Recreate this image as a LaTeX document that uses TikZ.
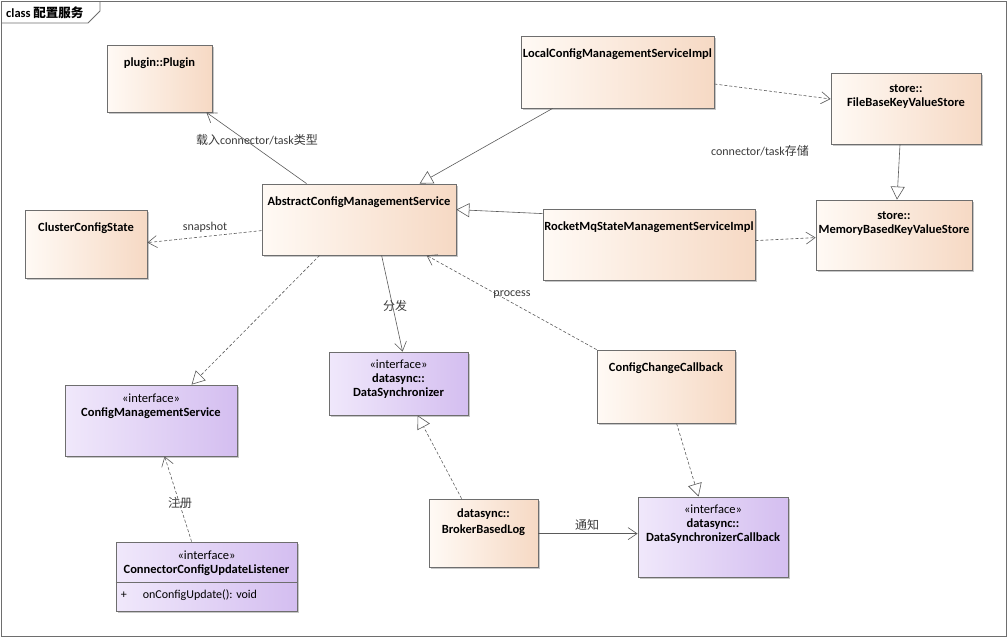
\documentclass[tikz,border=0pt]{standalone}
\usepackage{fontspec}
\setmainfont{Carlito}
\newfontfamily\cjk{Noto Sans CJK SC}
\usetikzlibrary{arrows.meta,shadows,calc}
\definecolor{clsA}{HTML}{FFFAF5}
\definecolor{clsB}{HTML}{F6D9C4}
\definecolor{ifA}{HTML}{F0E8FB}
\definecolor{ifB}{HTML}{D4BEF0}
\definecolor{edge}{HTML}{6E6E6E}
\definecolor{wire}{HTML}{5A5A5A}
\definecolor{lbl}{HTML}{3A3A3A}
\tikzset{
  boxbase/.style={draw=edge, line width=0.8pt, inner sep=0pt,
    drop shadow={shadow xshift=2pt, shadow yshift=-2pt, fill=black, opacity=0.22}},
  clsbox/.style={boxbase, left color=clsA, right color=clsB},
  ifbox/.style={boxbase, left color=ifA, right color=ifB},
  boxtext/.style={anchor=north, inner sep=0pt, align=center,
    font=\fontsize{12.5}{14}\selectfont\bfseries, text=black},
  lbltext/.style={inner sep=1pt, font=\fontsize{12}{14}\selectfont, text=lbl},
  wirebase/.style={draw=wire, line width=0.6pt},
  assoc/.style={wirebase, -{Straight Barb[length=9pt,width=12pt,line width=0.6pt]}},
  dep/.style={assoc, dash pattern=on 3pt off 2pt},
  gen/.style={wirebase, -{Triangle[length=13pt,width=14pt,fill=white,line width=0.6pt]}},
  real/.style={gen, dash pattern=on 3pt off 2pt}
}
\begin{document}
\begin{tikzpicture}[x=1pt,y=-1pt]
\useasboundingbox (0,0) rectangle (1007,637);
% frame
\draw[edge, line width=0.8pt] (1,1) rectangle (1006,636);
\draw[edge, line width=0.8pt] (1,23) -- (88,23) -- (100,11) -- (100,1);
\node[inner sep=0pt, anchor=west, font=\fontsize{12.5}{14}\selectfont\bfseries] (title) at (6,12.5) {class {\cjk 配置服务}};

% boxes
\node[clsbox, minimum width=105pt, minimum height=67pt] (plugin) at (159.5,78.5) {};
\node[clsbox, minimum width=193pt, minimum height=72pt] (local) at (617.5,72) {};
\node[clsbox, minimum width=150pt, minimum height=71pt] (file) at (906,108.5) {};
\node[clsbox, minimum width=194pt, minimum height=71pt] (abs) at (359,219.5) {};
\node[clsbox, minimum width=122pt, minimum height=68pt] (cluster) at (86,244) {};
\node[clsbox, minimum width=212pt, minimum height=71pt] (rocket) at (649,244.5) {};
\node[clsbox, minimum width=156pt, minimum height=70pt] (memory) at (894,235) {};
\node[ifbox, minimum width=172pt, minimum height=71pt] (cms) at (151,420.5) {};
\node[ifbox, minimum width=139pt, minimum height=63pt] (ds) at (398.5,383.5) {};
\node[clsbox, minimum width=138pt, minimum height=73pt] (ccc) at (666,386.5) {};
\node[clsbox, minimum width=109pt, minimum height=68pt] (bbl) at (483.5,533) {};
\node[ifbox, minimum width=150pt, minimum height=80pt] (dsc) at (713,537) {};
\node[ifbox, minimum width=181pt, minimum height=69pt] (ccul) at (206.5,576.5) {};
\draw[edge, line width=0.8pt] ($(ccul.north west)+(0,41)$) -- ($(ccul.north east)+(0,41)$);

% box texts
\node[boxtext] (tplugin) at ($(plugin.north)+(0,13)$) {plugin::Plugin};
\node[boxtext] (tlocal) at ($(local.north)+(0,13)$) {LocalConfigManagementServiceImpl};
\node[boxtext] (tfile) at ($(file.north)+(0,12)$) {store::\\FileBaseKeyValueStore};
\node[boxtext] (tabs) at ($(abs.north)+(0,13)$) {AbstractConfigManagementService};
\node[boxtext] (tcluster) at ($(cluster.north)+(0,13)$) {ClusterConfigState};
\node[boxtext] (trocket) at ($(rocket.north)+(0,13)$) {RocketMqStateManagementServiceImpl};
\node[boxtext] (tmemory) at ($(memory.north)+(0,12)$) {store::\\MemoryBasedKeyValueStore};
\node[boxtext] (tcms) at ($(cms.north)+(0,9)$) {\mdseries «interface»\\ConfigManagementService};
\node[boxtext] (tds) at ($(ds.north)+(0,8)$) {\mdseries «interface»\\datasync::\\DataSynchronizer};
\node[boxtext] (tccc) at ($(ccc.north)+(0,13)$) {ConfigChangeCallback};
\node[boxtext] (tbbl) at ($(bbl.north)+(0,10)$) {datasync::\\[1.5pt]BrokerBasedLog};
\node[boxtext] (tdsc) at ($(dsc.north)+(0,8)$) {\mdseries «interface»\\datasync::\\DataSynchronizerCallback};
\node[boxtext] (tccul) at ($(ccul.north)+(0,9)$) {\mdseries «interface»\\ConnectorConfigUpdateListener};
\node[inner sep=0pt, anchor=west, font=\fontsize{12}{14}\selectfont] (mplus) at ($(ccul.north west)+(5,54)$) {+};
\node[inner sep=0pt, anchor=west, font=\fontsize{12}{14}\selectfont] (mop) at ($(ccul.north west)+(27,54)$) {onConfigUpdate(): void};

% connectors
\draw[assoc] ($(abs.north west)+(45,0)$) -- ($(plugin.south east)+(-6,0)$);
\draw[gen] ($(local.south west)+(32,0)$) -- ($(abs.north west)+(158,0)$);
\draw[dep] ($(local.east)+(0,12)$) -- ($(file.west)+(0,-9.5)$);
\draw[gen] ($(file.south)+(-6,0)$) -- ($(memory.north)+(3,0)$);
\draw[gen] ($(rocket.north west)+(0,5)$) -- ($(abs.north east)+(0,26)$);
\draw[dep] ($(rocket.north east)+(0,32)$) -- ($(memory.north west)+(0,38)$);
\draw[dep] ($(abs.north west)+(0,47)$) -- ($(cluster.north east)+(0,33)$);
\draw[real] ($(abs.south west)+(58,0)$) -- ($(cms.north west)+(127,0)$);
\draw[assoc] ($(abs.south west)+(120,0)$) -- ($(ds.north west)+(74,0)$);
\draw[dep] (ccc.north west) -- ($(abs.south west)+(165,0)$);
\draw[real] ($(bbl.north west)+(33,0)$) -- ($(ds.south west)+(89,0)$);
\draw[real] ($(ccc.south west)+(80,0)$) -- ($(dsc.north west)+(61,0)$);
\draw[assoc] ($(bbl.north east)+(0,35)$) -- ($(dsc.north west)+(0,37)$);
\draw[dep] ($(ccul.north west)+(76,0)$) -- ($(cms.south west)+(100,0)$);

% labels
\node[lbltext] (l1) at (257,140) {{\cjk 载入}connector/task{\cjk 类型}};
\node[lbltext] (l2) at (760,151) {connector/task{\cjk 存储}};
\node[lbltext] (l3) at (205,227) {snapshot};
\node[lbltext] (l4) at (395,306) {\cjk 分发};
\node[lbltext] (l5) at (512,295) {process};
\node[lbltext] (l6) at (587,525) {\cjk 通知};
\node[lbltext] (l7) at (180,503) {\cjk 注册};
\end{tikzpicture}
\end{document}
